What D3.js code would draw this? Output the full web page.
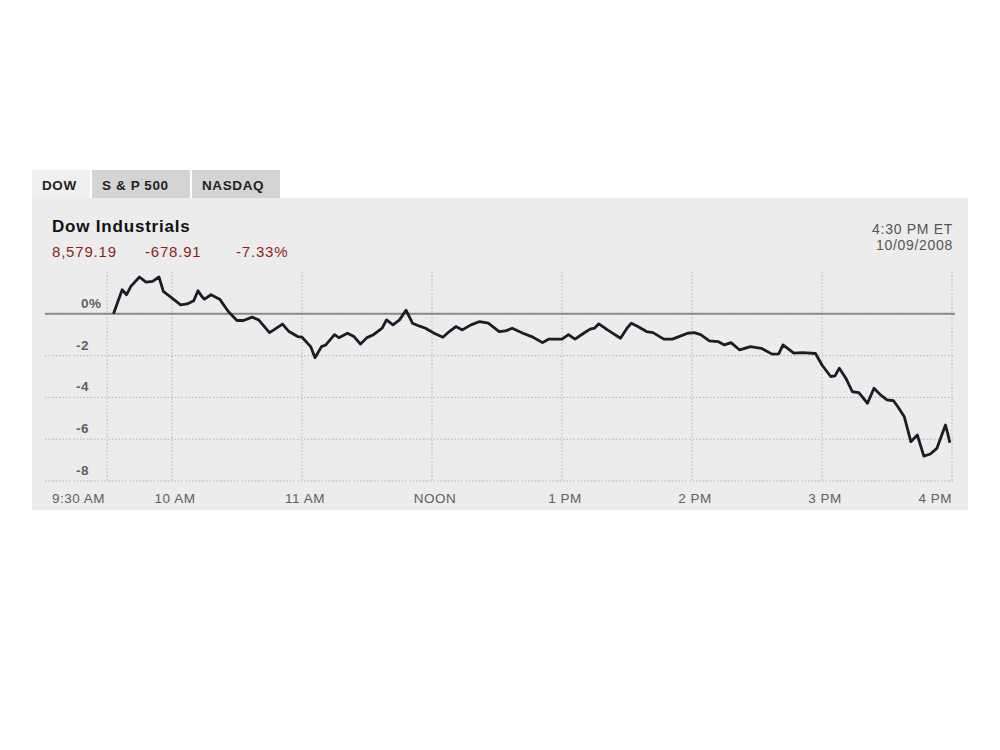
<!DOCTYPE html>
<html>
<head>
<meta charset="utf-8">
<script src="https://cdn.jsdelivr.net/npm/d3@7"></script>
<style>
    body { margin: 0; background: #fff; }
    svg { font-family: 'Liberation Sans', Arial, sans-serif; }
    .grid line { stroke: #b4b4b0; stroke-dasharray: 1.5 2; }
    .tick-label { fill: #606060; font-size: 13.5px; letter-spacing: 0.5px; }
</style>
</head>
<body>
<svg id="mainFrame"></svg>
<script>
// intraday Dow, % change vs previous close
const times = [
    '9:30', '9:33', '9:37', '9:39', '9:41', '9:45', '9:48', '9:51', '9:54', '9:56', '9:59',
    '10:04', '10:07', '10:10', '10:12', '10:14', '10:15', '10:18', '10:22', '10:26', '10:30',
    '10:33', '10:37', '10:40', '10:45', '10:47', '10:51', '10:54', '10:58', '11:00', '11:04',
    '11:06', '11:09', '11:11', '11:15', '11:17', '11:21', '11:24', '11:27', '11:30', '11:33',
    '11:37', '11:39', '11:42', '11:45', '11:48', '11:51', '11:54', '11:57', '12:01', '12:05',
    '12:08', '12:11', '12:14', '12:18', '12:22', '12:26', '12:31', '12:34', '12:37', '12:42',
    '12:46', '12:51', '12:54', '13:00', '13:03', '13:06', '13:10', '13:13', '13:15', '13:17',
    '13:21', '13:27', '13:30', '13:32', '13:35', '13:39', '13:42', '13:47', '13:51', '13:54',
    '13:58', '14:01', '14:04', '14:08', '14:12', '14:15', '14:18', '14:22', '14:27', '14:32',
    '14:37', '14:40', '14:42', '14:47', '14:51', '14:57', '15:00', '15:04', '15:06', '15:08',
    '15:11', '15:14', '15:17', '15:21', '15:24', '15:27', '15:30', '15:33', '15:35', '15:38',
    '15:41', '15:44', '15:47', '15:50', '15:53', '15:55', '15:57', '15:58', '15:59'
]
const pctChange = [
    0, 0, 1.15, 0.91, 1.31, 1.76, 1.52, 1.55, 1.76, 1.07, 0.83,
    0.43, 0.47, 0.62, 1.10, 0.80, 0.70, 0.91, 0.70, 0.11, -0.32,
    -0.32, -0.16, -0.29, -0.90, -0.77, -0.49, -0.85, -1.09, -1.12, -1.57,
    -2.10, -1.57, -1.49, -1.00, -1.14, -0.93, -1.09, -1.45, -1.14, -1.00,
    -0.69, -0.29, -0.53, -0.29, 0.17, -0.45, -0.58, -0.69, -0.93, -1.12,
    -0.85, -0.61, -0.77, -0.53, -0.37, -0.45, -0.85, -0.82, -0.69, -0.93,
    -1.09, -1.38, -1.21, -1.21, -1.00, -1.21, -0.93, -0.73, -0.69, -0.48,
    -0.77, -1.17, -0.69, -0.45, -0.61, -0.85, -0.90, -1.21, -1.21, -1.09,
    -0.93, -0.90, -1.00, -1.30, -1.33, -1.49, -1.38, -1.73, -1.57, -1.65,
    -1.93, -1.92, -1.49, -1.88, -1.86, -1.90, -2.45, -3.00, -2.97, -2.60,
    -3.08, -3.73, -3.77, -4.28, -3.56, -3.88, -4.12, -4.16, -4.45, -4.93,
    -6.12, -5.80, -6.81, -6.71, -6.44, -5.88, -5.32, -5.72, -6.17
]
const xTickTimes = ['9:30', '10:00', '11:00', '12:00', '13:00', '14:00', '15:00', '16:00']
const xTickLabels = ['9:30 AM', '10 AM', '11 AM', 'NOON', '1 PM', '2 PM', '3 PM', '4 PM']
const yTicks = [0, -2, -4, -6, -8]
const tabs = ['DOW', 'S & P 500', 'NASDAQ']
const quote = ['8,579.19', '-678.91', '-7.33%']

const parseTime = d3.timeParse('%H:%M')
const data = times.map((t, i) => ({ time: parseTime(t), pct: pctChange[i] }))

const svg = d3.select('#mainFrame')
    .attr('width', 1000)
    .attr('height', 750)

// tabs + panel
const tabX = [32, 92, 192]
const tabW = [58, 98, 88]
svg.append('rect')
    .attr('x', 32).attr('y', 198)
    .attr('width', 936).attr('height', 312)
    .attr('fill', '#ececec')

const tabGroup = svg.append('g')
tabs.forEach((t, i) => {
    tabGroup.append('rect')
        .attr('x', tabX[i]).attr('y', 170)
        .attr('width', tabW[i]).attr('height', 28)
        .attr('fill', i === 0 ? '#efefef' : '#d4d4d4')
    tabGroup.append('text')
        .attr('x', tabX[i] + 10).attr('y', 190)
        .attr('font-size', 13.5)
        .attr('font-weight', 'bold')
        .attr('letter-spacing', 0.6)
        .attr('fill', '#222')
        .text(t)
})

// header texts
svg.append('text')
    .attr('x', 52).attr('y', 232)
    .attr('font-size', 17).attr('font-weight', 'bold')
    .attr('letter-spacing', 0.8)
    .attr('fill', '#111')
    .text('Dow Industrials')

const quoteX = [52, 145, 236]
quote.forEach((q, i) => {
    svg.append('text')
        .attr('x', quoteX[i]).attr('y', 257)
        .attr('font-size', 15)
        .attr('letter-spacing', 0.8)
        .attr('fill', '#8e1f1a')
        .text(q)
})

svg.append('text')
    .attr('x', 953).attr('y', 234)
    .attr('text-anchor', 'end')
    .attr('font-size', 14).attr('letter-spacing', 0.7).attr('fill', '#555')
    .text('4:30 PM ET')
svg.append('text')
    .attr('x', 953).attr('y', 250)
    .attr('text-anchor', 'end')
    .attr('font-size', 14).attr('letter-spacing', 0.7).attr('fill', '#555')
    .text('10/09/2008')

// scales
const xScale = d3.scaleTime()
    .domain([parseTime('9:30'), parseTime('16:00')])
    .range([107, 952])

const yScale = d3.scaleLinear()
    .domain([-8, 2])
    .range([481, 272])

// grid
const grid = svg.append('g').attr('class', 'grid')
grid.selectAll('line.h').data(yTicks)
    .join('line')
    .attr('class', 'h')
    .attr('x1', 45).attr('x2', 955)
    .attr('y1', d => yScale(d)).attr('y2', d => yScale(d))

grid.selectAll('line.v').data(xTickTimes)
    .join('line')
    .attr('class', 'v')
    .attr('x1', d => xScale(parseTime(d))).attr('x2', d => xScale(parseTime(d)))
    .attr('y1', yScale(2)).attr('y2', yScale(-8))

// y labels, numbers right-aligned, the % hangs out
const yLabels = svg.append('g')
yLabels.selectAll('text').data(yTicks)
    .join('text')
    .attr('class', 'tick-label')
    .attr('x', 89)
    .attr('y', d => yScale(d) - 6)
    .attr('text-anchor', 'end')
    .attr('font-weight', 'bold')
    .text(d => d)
yLabels.append('text')
    .attr('class', 'tick-label')
    .attr('x', 89)
    .attr('y', yScale(0) - 6)
    .attr('font-weight', 'bold')
    .text('%')

// x labels
svg.append('g').selectAll('text').data(xTickTimes)
    .join('text')
    .attr('class', 'tick-label')
    .attr('x', (d, i) => xScale(parseTime(d)) + (i === 0 ? -2 : i === xTickTimes.length - 1 ? 0 : 3))
    .attr('y', 503)
    .attr('text-anchor', (d, i) => (i === 0 || i === xTickTimes.length - 1) ? 'end' : 'middle')
    .text((d, i) => xTickLabels[i])

// zero line
svg.append('line')
    .attr('x1', 45).attr('x2', 955)
    .attr('y1', yScale(0)).attr('y2', yScale(0))
    .attr('stroke', '#8a8a82')
    .attr('stroke-width', 2)

// the index line
const line = d3.line()
    .x(d => xScale(d.time))
    .y(d => yScale(d.pct))

svg.append('path')
    .datum(data.slice(1))
    .attr('d', line)
    .attr('fill', 'none')
    .attr('stroke', '#1a1d26')
    .attr('stroke-width', 2.8)
    .attr('stroke-linejoin', 'round')
</script>
</body>
</html>
